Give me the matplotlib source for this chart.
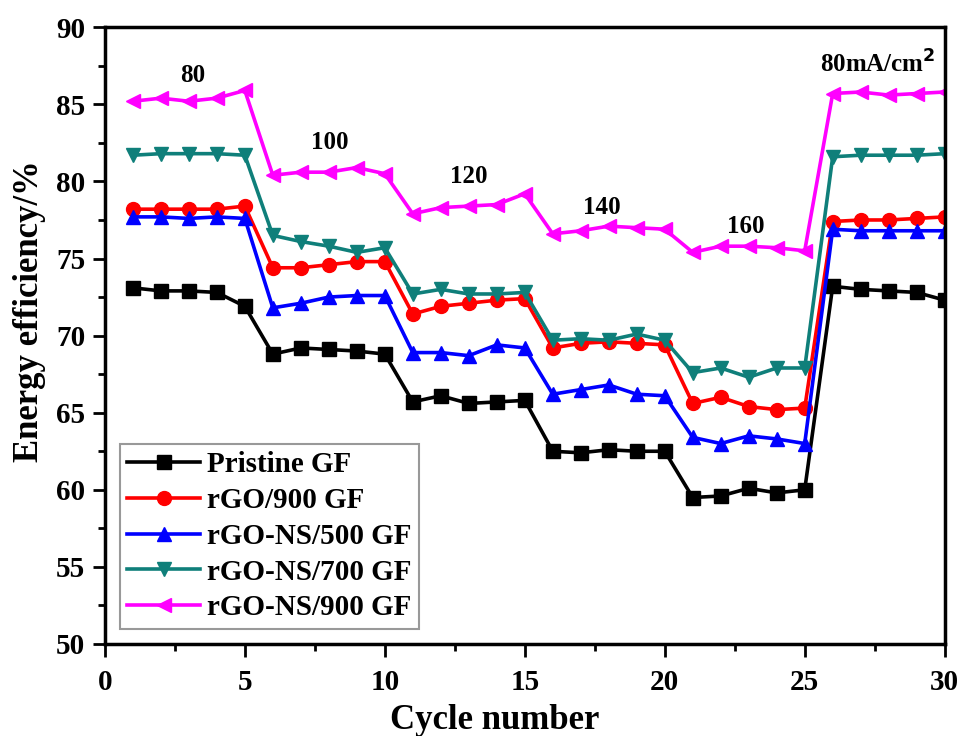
import matplotlib
matplotlib.use("Agg")
import matplotlib.pyplot as plt
from matplotlib.ticker import MultipleLocator

plt.rcParams['font.family'] = ['Liberation Serif', 'DejaVu Serif']
plt.rcParams['font.weight'] = 'bold'

cycles = list(range(1, 31))

pristine = [73.1, 72.9, 72.9, 72.8, 71.9,
            68.8, 69.2, 69.1, 69.0, 68.8,
            65.7, 66.1, 65.6, 65.7, 65.8,
            62.5, 62.4, 62.6, 62.5, 62.5,
            59.5, 59.6, 60.1, 59.8, 60.0,
            73.2, 73.0, 72.9, 72.8, 72.3]
rgo900 = [78.2, 78.2, 78.2, 78.2, 78.4,
          74.4, 74.4, 74.6, 74.8, 74.8,
          71.4, 71.9, 72.1, 72.3, 72.4,
          69.2, 69.5, 69.6, 69.5, 69.4,
          65.6, 66.0, 65.4, 65.2, 65.3,
          77.4, 77.5, 77.5, 77.6, 77.7]
ns500 = [77.7, 77.7, 77.6, 77.7, 77.6,
         71.8, 72.1, 72.5, 72.6, 72.6,
         68.9, 68.9, 68.7, 69.4, 69.2,
         66.2, 66.5, 66.8, 66.2, 66.1,
         63.4, 63.0, 63.5, 63.3, 63.0,
         76.9, 76.8, 76.8, 76.8, 76.8]
ns700 = [81.7, 81.8, 81.8, 81.8, 81.7,
         76.5, 76.1, 75.8, 75.4, 75.7,
         72.7, 73.0, 72.7, 72.7, 72.8,
         69.7, 69.8, 69.7, 70.1, 69.7,
         67.6, 67.9, 67.3, 67.9, 67.9,
         81.6, 81.7, 81.7, 81.7, 81.8]
ns900 = [85.2, 85.4, 85.2, 85.4, 85.9,
         80.4, 80.6, 80.6, 80.9, 80.5,
         77.9, 78.3, 78.4, 78.5, 79.2,
         76.6, 76.8, 77.1, 77.0, 76.9,
         75.4, 75.8, 75.8, 75.7, 75.5,
         85.7, 85.8, 85.6, 85.7, 85.8]

labels = ['Pristine GF', 'rGO/900 GF', 'rGO-NS/500 GF', 'rGO-NS/700 GF', 'rGO-NS/900 GF']
colors = ['black', '#ff0000', '#0000ff', '#0f7f7a', '#ff00ff']
markers = ['s', 'o', '^', 'v', '<']
series = [pristine, rgo900, ns500, ns700, ns900]

ann_text = ['80', '100', '120', '140', '160']
ann_x = [3.15, 8.05, 13.0, 17.75, 22.9]
ann_y = [86.9, 82.5, 80.3, 78.3, 77.1]

fig = plt.figure(figsize=(9.62, 7.36), dpi=100)
ax = fig.add_axes([0.109, 0.125, 0.873, 0.838])

for s, lab, c, m in zip(series, labels, colors, markers):
    ax.plot(cycles, s, color=c, marker=m, markersize=10, linewidth=2.6, label=lab)

for t, x, y in zip(ann_text, ann_x, ann_y):
    ax.text(x, y, t, fontsize=18, fontweight='bold', ha='center', va='center')
ax.text(27.6, 87.6, '80mA/cm$^{\\mathbf{2}}$', fontsize=18, fontweight='bold', ha='center', va='center')

ax.set_xlim(0, 30)
ax.set_ylim(50, 90)
ax.xaxis.set_major_locator(MultipleLocator(5))
ax.xaxis.set_minor_locator(MultipleLocator(2.5))
ax.yaxis.set_major_locator(MultipleLocator(5))
ax.yaxis.set_minor_locator(MultipleLocator(2.5))
ax.tick_params(axis='both', which='major', direction='out', length=9, width=2, labelsize=21)
ax.tick_params(axis='x', which='major', pad=9)
ax.tick_params(axis='y', which='major', pad=5)
ax.tick_params(axis='both', which='minor', direction='out', length=5, width=2)
for lab in ax.get_xticklabels() + ax.get_yticklabels():
    lab.set_fontweight('bold')
for sp in ax.spines.values():
    sp.set_linewidth(2.5)

ax.set_xlabel('Cycle number', fontsize=25, fontweight='bold')
ax.set_ylabel('Energy efficiency/%', fontsize=25, fontweight='bold')
ax.xaxis.set_label_coords(0.464, -0.097)
ax.yaxis.set_label_coords(-0.07, 0.54)

leg = ax.legend(loc='lower left', bbox_to_anchor=(0.018, 0.025), frameon=True,
                fancybox=False, edgecolor='gray', handlelength=2.5, handletextpad=0.25,
                borderpad=0.25, borderaxespad=0, labelspacing=0.3,
                prop={'weight': 'bold', 'size': 21})
leg.get_frame().set_linewidth(1.5)

fig.savefig('out.png', dpi=100)
